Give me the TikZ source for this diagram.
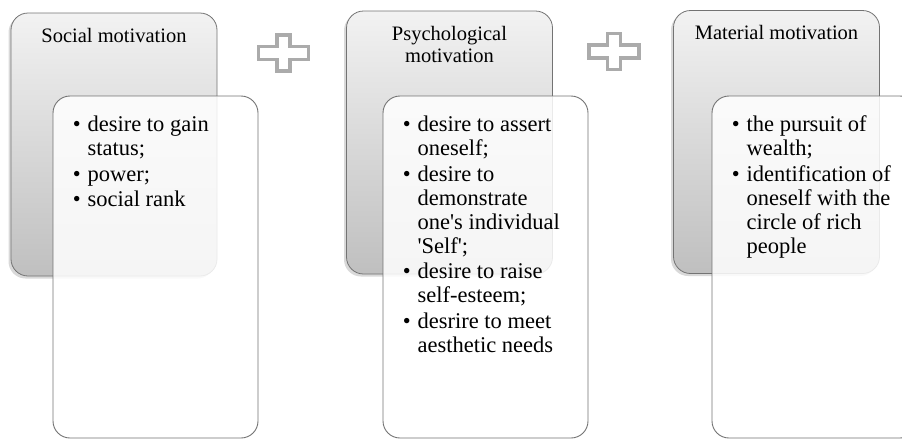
\documentclass[tikz,border=0pt]{standalone}
\usepackage{fontspec}
\setmainfont{Liberation Serif}
\usetikzlibrary{positioning,shadows}

\begin{document}
\begin{tikzpicture}[x=1pt,y=-1pt,line join=round,
  backbox/.style={draw=black!55,line width=.8pt,rounded corners=17pt,
    top color=black!5,bottom color=black!25,minimum width=206pt,minimum height=263pt,
    drop shadow={shadow xshift=-2.5pt,shadow yshift=-2.5pt,opacity=.3}},
  frontbox/.style={draw=black!55,line width=.9pt,rounded corners=17pt,
    fill=white,fill opacity=.85,minimum width=205pt,minimum height=342pt},
  titletext/.style={font=\fontsize{20.5}{22.5}\selectfont,align=center,inner sep=0pt},
  listtext/.style={font=\fontsize{22.5}{24}\selectfont,inner sep=0pt},
  plussign/.style={draw=black!33,line width=3.5pt,fill=white,line join=miter}]
  \useasboundingbox (0,0) rectangle (902,440);
  \clip (0,0) rectangle (902,440);
  % three motivation groups: shaded title card with a list card on top
  \node[backbox] (socback) at (114,144.5) {};
  \node[frontbox] (socfront) at (155.5,267) {};
  \node[titletext,below=15pt of socback.north] (soctitle) {Social motivation};
  \node[listtext,below right=19pt and 20pt of socfront.north west] (soclist) {%
    \begin{tabular}{@{}l@{\hspace{7pt}}l@{}}
      \textbullet & desire to gain\\
                  & status;\\[1.5pt]
      \textbullet & power;\\[1.5pt]
      \textbullet & social rank
    \end{tabular}};

  \node[backbox] (psyback) at (449.5,142.5) {};
  \node[frontbox] (psyfront) at (485.5,267) {};
  \node[titletext,below=15pt of psyback.north] (psytitle) {Psychological\\motivation};
  \node[listtext,below right=19pt and 20pt of psyfront.north west] (psylist) {%
    \begin{tabular}{@{}l@{\hspace{7pt}}l@{}}
      \textbullet & desire to assert\\
                  & oneself;\\[1.5pt]
      \textbullet & desire to\\
                  & demonstrate\\
                  & one\textquotesingle s individual\\
                  & \textquotesingle Self\textquotesingle;\\[1.5pt]
      \textbullet & desire to raise\\
                  & self-esteem;\\[1.5pt]
      \textbullet & desrire to meet\\
                  & aesthetic needs
    \end{tabular}};

  \node[backbox] (matback) at (776.5,142) {};
  \node[frontbox] (matfront) at (814.5,267) {};
  \node[titletext,below=15pt of matback.north] (mattitle) {Material motivation};
  \node[listtext,below right=19pt and 20pt of matfront.north west] (matlist) {%
    \begin{tabular}{@{}l@{\hspace{7pt}}l@{}}
      \textbullet & the pursuit of\\
                  & wealth;\\[1.5pt]
      \textbullet & identification of\\
                  & oneself with the\\
                  & circle of rich\\
                  & people
    \end{tabular}};

  % plus signs between the groups
  \foreach \px/\py in {283.5/53,614/51.5}
    \draw[plussign,shift={(\px,\py)}] (-25,-6.5) -- (-6.5,-6.5) -- (-6.5,-18) -- (6.5,-18)
      -- (6.5,-6.5) -- (25,-6.5) -- (25,6.5) -- (6.5,6.5) -- (6.5,18) -- (-6.5,18)
      -- (-6.5,6.5) -- (-25,6.5) -- cycle;
\end{tikzpicture}
\end{document}
